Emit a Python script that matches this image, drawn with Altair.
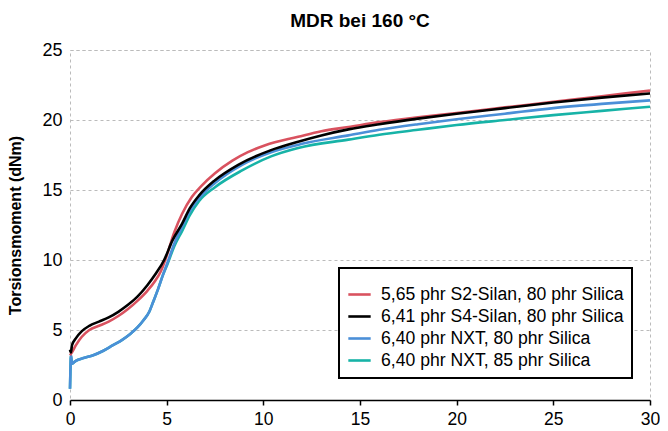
import altair as alt
import pandas as pd

series_names = [
    "5,65 phr S2-Silan, 80 phr Silica",
    "6,41 phr S4-Silan, 80 phr Silica",
    "6,40 phr NXT, 80 phr Silica",
    "6,40 phr NXT, 85 phr Silica",
]
series_colors = ["#d9525f", "#000000", "#4b8fd8", "#17b3a7"]

t_s2 = [0, 0.1, 0.3, 0.6, 1.0, 1.5, 2.0, 2.5, 3.0, 3.5, 4.0, 4.4, 4.7, 5.0, 5.4, 5.8, 6.3, 6.8, 7.5, 8.4, 9.2, 10.1, 11.8, 13.0, 14.4, 16, 18, 20, 22.5, 25, 27.5, 30]
v_s2 = [3.2, 3.4, 3.9, 4.5, 5.0, 5.3, 5.6, 6.0, 6.5, 7.1, 7.8, 8.5, 9.2, 10.3, 12.0, 13.3, 14.5, 15.3, 16.2, 17.1, 17.7, 18.2, 18.8, 19.2, 19.5, 19.85, 20.2, 20.5, 20.9, 21.3, 21.7, 22.1]

t_s4 = [0, 0.05, 0.1, 0.3, 0.6, 1.0, 1.5, 2.0, 2.5, 3.0, 3.5, 4.0, 4.45, 4.87, 5.3, 5.8, 6.2, 6.67, 7.5, 8.7, 10.4, 11.8, 13, 14.4, 16, 18, 20, 22.5, 25, 27.5, 30]
v_s4 = [3.6, 3.4, 3.9, 4.4, 4.9, 5.3, 5.6, 5.9, 6.3, 6.8, 7.4, 8.2, 9.05, 10.0, 11.4, 12.6, 13.7, 14.6, 15.7, 16.8, 17.85, 18.45, 18.9, 19.33, 19.7, 20.1, 20.45, 20.85, 21.25, 21.6, 21.9]

t_nxt80 = [0, 0.02, 0.05, 0.1, 0.3, 0.7, 1.2, 1.7, 2.2, 2.7, 3.1, 3.5, 3.8, 4.1, 4.3, 4.55, 4.8, 5.04, 5.4, 5.81, 6.2, 6.67, 7.5, 8.9, 10.4, 12, 14.4, 16, 18, 20, 22.5, 25, 27.5, 30]
v_nxt80 = [0.8, 2.0, 3.2, 2.6, 2.8, 3.0, 3.2, 3.5, 3.9, 4.3, 4.7, 5.2, 5.7, 6.3, 7.0, 7.9, 8.9, 9.8, 11.2, 12.4, 13.5, 14.4, 15.5, 16.8, 17.7, 18.3, 18.9, 19.3, 19.7, 20.05, 20.45, 20.85, 21.15, 21.4]

t_nxt85 = [0, 0.02, 0.05, 0.1, 0.3, 0.7, 1.2, 1.7, 2.2, 2.7, 3.1, 3.5, 3.8, 4.1, 4.3, 4.55, 4.8, 5.04, 5.4, 5.81, 6.2, 6.67, 7.5, 8.9, 10.4, 11.8, 14.4, 16, 18, 20, 22.5, 25, 27.5, 30]
v_nxt85 = [0.8, 2.0, 3.2, 2.6, 2.8, 3.0, 3.2, 3.5, 3.9, 4.3, 4.7, 5.2, 5.7, 6.3, 7.0, 7.9, 8.9, 9.7, 11.0, 12.1, 13.2, 14.2, 15.2, 16.4, 17.4, 18.0, 18.6, 18.95, 19.3, 19.64, 20.0, 20.35, 20.65, 20.95]

x_ticks = [0, 5, 10, 15, 20, 25, 30]
y_ticks = [0, 5, 10, 15, 20, 25]

# draw order: teal, blue, red, black (black on top)
rows = []
for name, ts, vs in [
    (series_names[3], t_nxt85, v_nxt85),
    (series_names[2], t_nxt80, v_nxt80),
    (series_names[0], t_s2, v_s2),
    (series_names[1], t_s4, v_s4),
]:
    for t, v in zip(ts, vs):
        rows.append({"Serie": name, "t": t, "M": v})
df = pd.DataFrame(rows)

FONT = "Liberation Sans"

chart = alt.Chart(df).mark_line(strokeWidth=2.6, interpolate="monotone").encode(
    x=alt.X("t:Q", scale=alt.Scale(domain=[0, 30], nice=False),
            axis=alt.Axis(values=x_ticks, title=None, grid=False, domain=True,
                          domainColor="black", domainWidth=1.5, tickColor="black",
                          tickWidth=1.5, tickSize=5, labelPadding=5, labelFontSize=17.5,
                          labelFont=FONT, labelColor="black", labelFlush=False)),
    y=alt.Y("M:Q", scale=alt.Scale(domain=[0, 25], nice=False),
            axis=alt.Axis(values=y_ticks, title="Torsionsmoment (dNm)", grid=True,
                          gridColor="#bbbbbb", gridDash=[3, 3], gridWidth=1,
                          domain=False, ticks=False, labelPadding=8, labelFontSize=18,
                          labelFont=FONT, labelColor="black", titleFont=FONT,
                          titleFontSize=16, titleFontWeight="bold", titleColor="black",
                          titlePadding=18)),
    color=alt.Color("Serie:N", scale=alt.Scale(domain=series_names, range=series_colors),
                    legend=alt.Legend(title=" ", titleFontSize=6, titlePadding=0,
                                      orient="none", legendX=269, legendY=218,
                                      strokeColor="black", padding=8, fillColor="white",
                                      labelFont=FONT, labelFontSize=17.6, labelColor="black",
                                      symbolType="stroke", symbolStrokeWidth=2.6,
                                      symbolSize=500, rowPadding=0, labelOffset=9,
                                      labelLimit=400)),
).properties(
    width=580,
    height=350,
    title=alt.TitleParams("MDR bei 160 °C", font=FONT, fontSize=19, fontWeight="bold",
                          color="black", anchor="middle", offset=10),
    padding={"left": 62, "top": 42, "right": 10, "bottom": 30},
    autosize=alt.AutoSizeParams(type="none"),
).configure_view(stroke="#bbbbbb", strokeDash=[3, 3], strokeWidth=1
).configure_legend(strokeWidth=2)

chart.save("out.html", embed_options={"renderer": "svg", "actions": False})
